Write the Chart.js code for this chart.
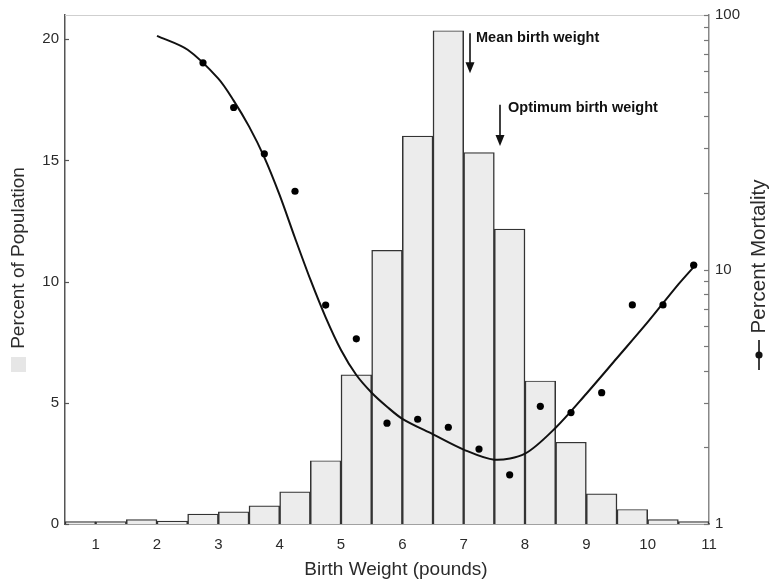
<!DOCTYPE html>
<html>
<head>
<meta charset="utf-8">
<script src="https://cdn.jsdelivr.net/npm/chart.js@4.4.1/dist/chart.umd.min.js"></script>
<style>
  html, body { margin: 0; padding: 0; background: #fff; }
  #wrap { width: 772px; height: 583px; position: relative; }
</style>
</head>
<body>
<div id="wrap"><canvas id="chart"></canvas></div>
<script>
// ===== DATA =====
// histogram bins (0.5 lb wide), centres of bins
const binCenters = [0.75, 1.25, 1.75, 2.25, 2.75, 3.25, 3.75, 4.25, 4.75, 5.25, 5.75,
                    6.25, 6.75, 7.25, 7.75, 8.25, 8.75, 9.25, 9.75, 10.25, 10.75];
const percentPopulation = [0.1, 0.1, 0.18, 0.12, 0.41, 0.5, 0.75, 1.33, 2.61, 6.15, 11.29,
                           16.0, 20.35, 15.32, 12.17, 5.9, 3.37, 1.24, 0.6, 0.18, 0.1];

// observed mortality (dots)
const mortalityX = [2.75, 3.25, 3.75, 4.25, 4.75, 5.25, 5.75, 6.25, 6.75, 7.25, 7.75,
                    8.25, 8.75, 9.25, 9.75, 10.25, 10.75];
const mortality = [64.9, 43.3, 28.5, 20.3, 7.25, 5.34, 2.49, 2.58, 2.40, 1.97, 1.56,
                   2.90, 2.74, 3.28, 7.26, 7.26, 10.4];

// fitted mortality curve
const fitX = [2.0, 2.5, 3.0, 3.25, 3.5, 3.75, 4.0, 4.25, 4.5, 4.75, 5.0, 5.25, 5.5, 5.75,
              6.0, 6.5, 7.0, 7.5, 8.0, 8.5, 9.0, 9.5, 10.0, 10.5, 10.8];
const fitMortality = [82.8, 73.0, 56.2, 46.1, 36.5, 27.6, 19.6, 13.3, 9.14, 6.49, 4.83, 3.85, 3.28, 2.89,
                      2.59, 2.25, 1.96, 1.79, 1.89, 2.39, 3.25, 4.49, 6.21, 8.74, 10.55];

// tick labels
const xTicks = [1, 2, 3, 4, 5, 6, 7, 8, 9, 10, 11];
const popTicks = [0, 5, 10, 15, 20];
const mortTicks = [1, 2, 3, 4, 5, 6, 7, 8, 9, 10, 20, 30, 40, 50, 60, 70, 80, 90, 100];
const mortLabels = [1, 10, 100];

// annotations
const meanWeight = 7.1;
const optimumWeight = 7.6;

// ===== STYLE =====
const FONT = "'Liberation Sans', Arial, Helvetica, sans-serif";
const TEXT = '#2b2b2b';
const BAR_FILL = '#ececec';
const BAR_EDGE = '#333333';

// Inward tick marks, top frame, titles, legend keys, arrows
const decorPlugin = {
  id: 'decor',
  afterDraw(chart) {
    const ctx = chart.ctx;
    const area = chart.chartArea;
    const x = chart.scales.x;
    const y = chart.scales.y;
    const y2 = chart.scales.y2;
    ctx.save();

    // top frame line
    ctx.strokeStyle = '#cfcfcf';
    ctx.lineWidth = 1.2;
    ctx.beginPath();
    ctx.moveTo(area.left, area.top + 0.5);
    ctx.lineTo(area.right, area.top + 0.5);
    ctx.stroke();

    // left ticks
    ctx.strokeStyle = '#555';
    ctx.lineWidth = 1.2;
    popTicks.forEach(v => {
      const py = Math.round(y.getPixelForValue(v)) + 0.5;
      ctx.beginPath();
      ctx.moveTo(area.left, py);
      ctx.lineTo(area.left + 4, py);
      ctx.stroke();
    });
    // right ticks
    ctx.strokeStyle = '#777';
    mortTicks.forEach(v => {
      const py = Math.round(y2.getPixelForValue(v)) + 0.5;
      ctx.beginPath();
      ctx.moveTo(area.right - 5, py);
      ctx.lineTo(area.right, py);
      ctx.stroke();
    });

    // arrows + labels
    const arrow = (xv, topV, tipV) => {
      const px = Math.round(x.getPixelForValue(xv));
      const top = y.getPixelForValue(topV);
      const tip = y.getPixelForValue(tipV);
      ctx.strokeStyle = '#111';
      ctx.fillStyle = '#111';
      ctx.lineWidth = 1.6;
      ctx.beginPath();
      ctx.moveTo(px, top);
      ctx.lineTo(px, tip - 8);
      ctx.stroke();
      ctx.beginPath();
      ctx.moveTo(px - 4.5, tip - 11);
      ctx.lineTo(px + 4.5, tip - 11);
      ctx.lineTo(px, tip);
      ctx.closePath();
      ctx.fill();
      return px;
    };
    ctx.font = "bold 14.5px " + FONT;
    ctx.textBaseline = 'middle';
    ctx.textAlign = 'left';
    let px = arrow(meanWeight, 20.25, 18.6);
    ctx.fillText('Mean birth weight', px + 6, y.getPixelForValue(20.05));
    px = arrow(optimumWeight, 17.3, 15.6);
    ctx.fillText('Optimum birth weight', px + 8, y.getPixelForValue(17.15));

    // axis titles
    ctx.fillStyle = TEXT;
    ctx.font = "19px " + FONT;
    ctx.textAlign = 'center';
    ctx.textBaseline = 'middle';
    ctx.fillText('Birth Weight (pounds)', 396, 570);

    ctx.save();
    ctx.translate(18.5, 258);
    ctx.rotate(-Math.PI / 2);
    ctx.fillText('Percent of Population', 0, 0);
    ctx.restore();
    ctx.fillStyle = '#e6e6e6';
    ctx.fillRect(11, 357, 15, 15);

    ctx.fillStyle = TEXT;
    ctx.font = "20.5px " + FONT;
    ctx.save();
    ctx.translate(759, 256.5);
    ctx.rotate(-Math.PI / 2);
    ctx.fillText('Percent Mortality', 0, 0);
    ctx.restore();
    ctx.strokeStyle = '#111';
    ctx.lineWidth = 1.6;
    ctx.beginPath();
    ctx.moveTo(759, 340);
    ctx.lineTo(759, 370);
    ctx.stroke();
    ctx.fillStyle = '#111';
    ctx.beginPath();
    ctx.arc(759, 355, 3.6, 0, Math.PI * 2);
    ctx.fill();

    ctx.restore();
  }
};

new Chart(document.getElementById('chart'), {
  type: 'bar',
  data: {
    datasets: [
      {
        type: 'scatter',
        label: 'Percent Mortality (observed)',
        data: mortalityX.map((v, i) => ({ x: v, y: mortality[i] })),
        yAxisID: 'y2',
        pointRadius: 3.6,
        pointBackgroundColor: '#000',
        pointBorderWidth: 0,
        order: 0
      },
      {
        type: 'line',
        label: 'Fit',
        data: fitX.map((v, i) => ({ x: v, y: fitMortality[i] })),
        yAxisID: 'y2',
        borderColor: '#111',
        borderWidth: 2,
        pointRadius: 0,
        tension: 0.3,
        fill: false,
        order: 1
      },
      {
        type: 'bar',
        label: 'Percent of Population',
        data: binCenters.map((v, i) => ({ x: v, y: percentPopulation[i] })),
        yAxisID: 'y',
        backgroundColor: BAR_FILL,
        borderColor: BAR_EDGE,
        borderWidth: { top: 1.2, left: 1.5, right: 1.5, bottom: 0 },
        barPercentage: 1,
        categoryPercentage: 1,
        order: 2
      }
    ]
  },
  options: {
    responsive: true,
    maintainAspectRatio: false,
    animation: false,
    layout: { padding: { top: 12, left: 0, right: 0, bottom: 0 } },
    plugins: {
      legend: { display: false },
      tooltip: { enabled: false }
    },
    scales: {
      x: {
        type: 'linear',
        position: 'bottom',
        offset: false,
        min: 0.5,
        max: 11,
        afterBuildTicks: (s) => { s.ticks = xTicks.map(v => ({ value: v })); },
        afterFit: (s) => { s.height = 59; },
        grid: { display: false, drawTicks: false, offset: false },
        border: { display: true, color: '#444', width: 1.5 },
        ticks: { color: TEXT, font: { family: FONT, size: 15 }, padding: 12, autoSkip: false, maxRotation: 0 }
      },
      y: {
        type: 'linear',
        position: 'left',
        min: 0,
        max: 21.0,
        afterBuildTicks: (s) => { s.ticks = popTicks.map(v => ({ value: v })); },
        afterFit: (s) => { s.width = 65; },
        grid: { display: false, drawTicks: false },
        border: { display: true, color: '#555', width: 1.5 },
        ticks: { color: TEXT, font: { family: FONT, size: 15 }, padding: 6 }
      },
      y2: {
        type: 'logarithmic',
        position: 'right',
        min: 1,
        max: 100,
        afterBuildTicks: (s) => { s.ticks = mortTicks.map(v => ({ value: v })); },
        afterFit: (s) => { s.width = 63; },
        grid: { display: false, drawTicks: false },
        border: { display: true, color: '#888', width: 1.5 },
        ticks: {
          color: TEXT,
          font: { family: FONT, size: 15 },
          padding: 6,
          autoSkip: false,
          callback: (v) => mortLabels.includes(v) ? String(v) : ''
        }
      }
    }
  },
  plugins: [decorPlugin]
});
</script>
</body>
</html>
